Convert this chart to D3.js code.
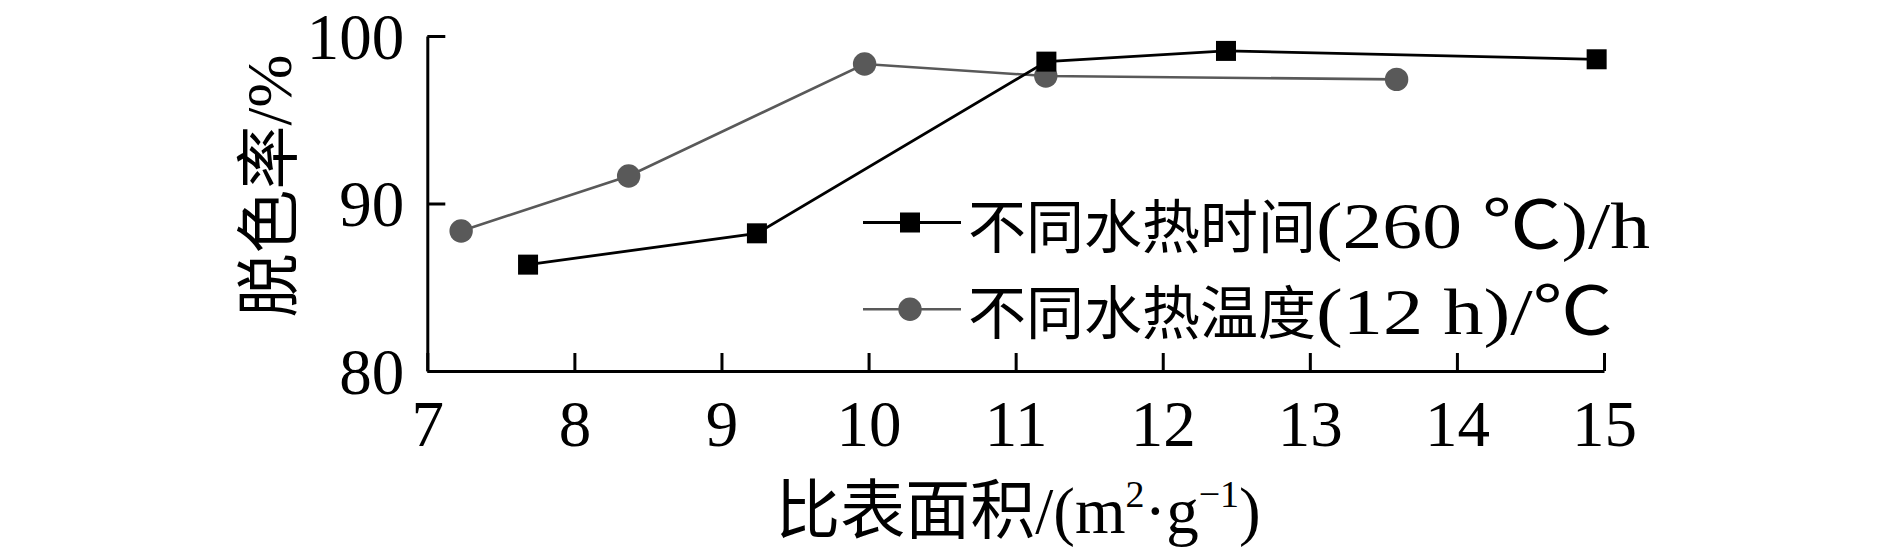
<!DOCTYPE html>
<html><head><meta charset="utf-8">
<script src="https://cdn.jsdelivr.net/npm/d3@7"></script>
<style>
html,body{margin:0;padding:0;background:#fff;}
svg{display:block;}
text{font-family:"Liberation Serif","Times New Roman","Noto Sans CJK SC",serif;fill:#000;}
</style></head><body>
<svg id="chart" width="1890" height="552"></svg>
<script>
// Data
const timeX = [7.685, 9.241, 11.209, 12.43, 14.95];
const timeY = [86.35, 88.22, 98.47, 99.11, 98.61];
const tempX = [7.23, 8.369, 9.973, 11.205, 13.59];
const tempY = [88.36, 91.64, 98.33, 97.61, 97.41];
const xTicks = [7, 8, 9, 10, 11, 12, 13, 14, 15];
const yTicks = [80, 90, 100];
const seriesCJK = ["不同水热时间", "不同水热温度"];
const seriesUnit = ["(260 ℃)/h", "(12 h)/℃"];
const xTitleCJK = "比表面积";
const yTitle = "脱色率/%";

const W = 1890, H = 552;
const m = {left: 427.3, right: W - 1604, top: 36, bottom: H - 371};
const svg = d3.select("#chart");
const x = d3.scaleLinear().domain([7, 15]).range([m.left, W - m.right]);
const y = d3.scaleLinear().domain([80, 100]).range([H - m.bottom, m.top]);

const gray = "#595959";

// axes
const xAxis = svg.append("g").attr("transform", `translate(0,${y(80)})`)
  .call(d3.axisBottom(x).tickValues(xTicks).tickFormat(d3.format("d")).tickSizeInner(-18).tickSizeOuter(0).tickPadding(0));
const yAxis = svg.append("g").attr("transform", `translate(${x(7)},0)`)
  .call(d3.axisLeft(y).tickValues(yTicks).tickFormat(d3.format("d")).tickSizeInner(-18).tickSizeOuter(0).tickPadding(0));
[xAxis, yAxis].forEach(g => {
  g.selectAll("path.domain").attr("stroke", "#000").attr("stroke-width", 3);
  g.selectAll(".tick line").attr("stroke", "#000").attr("stroke-width", 3);
  g.selectAll(".tick text").attr("font-size", 65).attr("font-family", '"Liberation Serif","Times New Roman",serif');
});
xAxis.selectAll(".tick text").attr("dy", null).attr("y", 75).attr("dominant-baseline", "auto");
yAxis.selectAll(".tick text").attr("x", -23).attr("dy", null).attr("dominant-baseline", "central");

// lines
const line = d3.line().x(d => x(d[0])).y(d => y(d[1]));
const timePts = timeX.map((v, i) => [v, timeY[i]]);
const tempPts = tempX.map((v, i) => [v, tempY[i]]);

svg.append("path").datum(tempPts).attr("d", line).attr("fill", "none").attr("stroke", gray).attr("stroke-width", 2.6);
svg.append("path").datum(timePts).attr("d", line).attr("fill", "none").attr("stroke", "#000").attr("stroke-width", 2.8);

svg.selectAll("circle.temp").data(tempPts).enter().append("circle")
  .attr("cx", d => x(d[0])).attr("cy", d => y(d[1])).attr("r", 11.7).attr("fill", gray);
const sq = 20;
svg.selectAll("rect.time").data(timePts).enter().append("rect")
  .attr("x", d => x(d[0]) - sq / 2).attr("y", d => y(d[1]) - sq / 2)
  .attr("width", sq).attr("height", sq).attr("fill", "#000");

// legend
const leg = svg.append("g");
const legRows = [
  {y: 222.5, color: "#000", shape: "rect", lw: 2.8, unitLen: 334},
  {y: 309.3, color: gray, shape: "circle", lw: 2.6, unitLen: 297}
];
legRows.forEach((r, i) => {
  leg.append("line").attr("x1", 863).attr("x2", 961).attr("y1", r.y).attr("y2", r.y)
    .attr("stroke", r.color).attr("stroke-width", r.lw);
  if (r.shape === "rect") {
    leg.append("rect").attr("x", 910 - sq / 2).attr("y", r.y - sq / 2).attr("width", sq).attr("height", sq).attr("fill", r.color);
  } else {
    leg.append("circle").attr("cx", 910).attr("cy", r.y).attr("r", 11.7).attr("fill", r.color);
  }
  leg.append("text").attr("x", 968).attr("y", r.y + 25).attr("font-size", 58)
    .attr("textLength", 348).attr("lengthAdjust", "spacingAndGlyphs").text(seriesCJK[i]);
  leg.append("text").attr("x", 1316).attr("y", r.y + 25).attr("font-size", 66)
    .attr("textLength", r.unitLen).attr("lengthAdjust", "spacingAndGlyphs").text(seriesUnit[i]);
});

// axis titles
const xt = svg.append("text").attr("x", 1018).attr("y", 533).attr("text-anchor", "middle").attr("font-size", 65);
xt.append("tspan").text(xTitleCJK + "/(m");
xt.append("tspan").attr("font-size", 38).attr("dy", -26).text("2");
xt.append("tspan").attr("dy", 26).text("·g");
xt.append("tspan").attr("font-size", 38).attr("dy", -26).text("−1");
xt.append("tspan").attr("dy", 26).text(")");

svg.append("text").attr("transform", `translate(291,${186}) rotate(-90)`)
  .attr("text-anchor", "middle").attr("font-size", 64).text(yTitle);
</script>
</body></html>
